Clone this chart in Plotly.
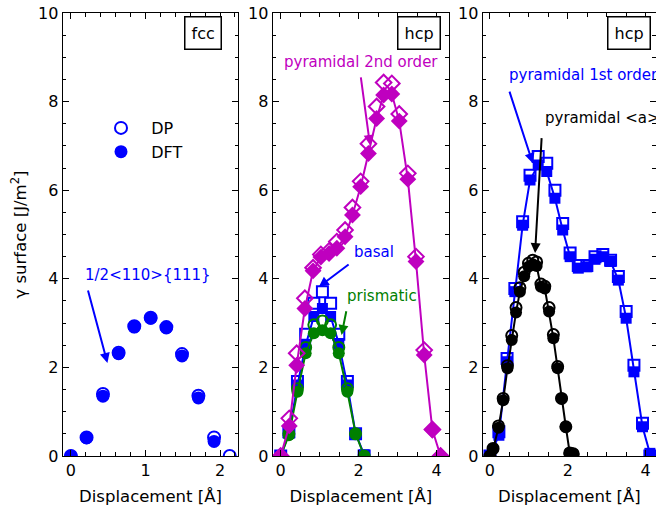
import plotly.graph_objects as go

# ---------------- data ----------------
fcc_x = [0.00, 0.21, 0.43, 0.64, 0.85, 1.07, 1.28, 1.49, 1.71, 1.92, 2.13]
fcc_dp = [0.00, 0.42, 1.40, 2.33, 2.93, 3.12, 2.91, 2.30, 1.36, 0.42, 0.00]
fcc_dft = [0.00, 0.41, 1.35, 2.31, 2.91, 3.11, 2.89, 2.26, 1.31, 0.33]

bp_x = [0.00, 0.21, 0.43, 0.64, 0.85, 1.07, 1.28, 1.49, 1.71, 1.92, 2.14]
basal_dft = [0.00, 0.51, 1.60, 2.50, 3.15, 3.33, 3.15, 2.54, 1.60, 0.51, 0.03]
basal_dp = [0.00, 0.55, 1.68, 2.75, 3.45, 3.71, 3.45, 2.75, 1.68, 0.50, 0.00]
prism_dft = [0.00, 0.47, 1.45, 2.32, 2.77, 2.84, 2.77, 2.32, 1.45, 0.51, 0.00]
prism_dp = [0.00, 0.50, 1.52, 2.45, 2.96, 3.05, 2.96, 2.45, 1.52, 0.50, 0.00]

pyr2_x = [0.00, 0.22, 0.41, 0.62, 0.83, 1.03, 1.24, 1.44, 1.65, 1.84, 2.05,
          2.25, 2.46, 2.64, 2.85, 3.04, 3.26, 3.47, 3.68, 3.89, 4.10]
pyr2_dft = [0.00, 0.68, 2.05, 3.33, 4.18, 4.49, 4.57, 4.69, 4.95, 5.44, 6.08,
            6.83, 7.62, 8.15, 8.17, 7.56, 6.25, 4.39, 2.28, 0.59, 0.00]
pyr2_dp = [0.00, 0.85, 2.32, 3.56, 4.25, 4.55, 4.63, 4.84, 5.10, 5.61, 6.20,
           7.05, 7.89, 8.43, 8.41, 7.72, 6.38, 4.50, 2.39, 0.60, 0.00]

pyr1_x = [0.00, 0.23, 0.44, 0.64, 0.84, 1.03, 1.24, 1.46, 1.67, 1.87, 2.06,
          2.27, 2.49, 2.70, 2.90, 3.10, 3.30, 3.50, 3.70, 3.92, 4.11]
pyr1_dft = [0.00, 0.47, 2.13, 3.71, 5.21, 6.23, 6.57, 6.42, 5.82, 5.10, 4.50,
            4.24, 4.27, 4.44, 4.50, 4.39, 3.97, 3.11, 1.90, 0.66, 0.06]
pyr1_dp = [0.00, 0.55, 2.20, 3.78, 5.29, 6.34, 6.76, 6.61, 6.00, 5.25, 4.58,
           4.30, 4.30, 4.50, 4.55, 4.42, 4.05, 3.26, 2.05, 0.74, 0.00]

pyra_x = [0.00, 0.08, 0.22, 0.34, 0.45, 0.56, 0.67, 0.77, 0.88, 0.99, 1.10,
          1.20, 1.31, 1.41, 1.52, 1.63, 1.74, 1.84, 1.95, 2.05, 2.14]
pyra_dft = [0.00, 0.15, 0.64, 1.26, 1.98, 2.62, 3.24, 3.71, 4.06, 4.27, 4.33,
            4.29, 3.82, 3.78, 3.26, 2.66, 1.98, 1.30, 0.66, 0.07, 0.05]
pyra_dp = [0.00, 0.17, 0.68, 1.30, 2.04, 2.72, 3.35, 3.80, 4.15, 4.35, 4.42,
           4.38, 3.88, 3.83, 3.35, 2.74, 2.02, 1.30, 0.66, 0.07, 0.05]

BLUE = "#0000ff"
GREEN = "#008000"
MAG = "#bf00bf"
BLACK = "#000000"
FONT = "DejaVu Sans"

W, H = 656, 506

fig = go.Figure()


def open_tr(x, y, color, symbol, size, xa, ya, name=None, legend=False):
    fig.add_trace(go.Scatter(
        x=x, y=y, mode="markers", xaxis=xa, yaxis=ya, name=name, showlegend=legend,
        marker=dict(symbol=symbol + "-open", size=size, color=color,
                    line=dict(width=2, color=color))))


def fill_tr(x, y, color, symbol, size, xa, ya, lines=True, name=None, legend=False):
    fig.add_trace(go.Scatter(
        x=x[:len(y)], y=y, mode="lines+markers" if lines else "markers",
        xaxis=xa, yaxis=ya, name=name, showlegend=legend,
        line=dict(color=color, width=2),
        marker=dict(symbol=symbol, size=size, color=color, line=dict(width=0))))


# panel 1: fcc
open_tr(fcc_x, fcc_dp, BLUE, "circle", 12, "x", "y", name="\u00a0\u00a0DP", legend=True)
fill_tr(fcc_x, fcc_dft, BLUE, "circle", 13, "x", "y", lines=False,
        name="\u00a0\u00a0DFT", legend=True)

# panel 2: hcp basal / prismatic / pyramidal 2nd order
open_tr(bp_x, basal_dp, BLUE, "square", 11, "x2", "y2")
fill_tr(bp_x, basal_dft, BLUE, "square", 11, "x2", "y2")
open_tr(bp_x, prism_dp, GREEN, "circle", 11, "x2", "y2")
fill_tr(bp_x, prism_dft, GREEN, "circle", 12, "x2", "y2")
open_tr(pyr2_x, pyr2_dp, MAG, "diamond", 12, "x2", "y2")
fill_tr(pyr2_x, pyr2_dft, MAG, "diamond", 13, "x2", "y2")

# panel 3: pyramidal 1st order / pyramidal <a>
open_tr(pyr1_x, pyr1_dp, BLUE, "square", 11, "x3", "y3")
fill_tr(pyr1_x, pyr1_dft, BLUE, "square", 11, "x3", "y3")
open_tr(pyra_x, pyra_dp, BLACK, "circle", 11, "x3", "y3")
fill_tr(pyra_x, pyra_dft, BLACK, "circle", 12, "x3", "y3")

ydom = [1 - 456 / H, 1 - 13 / H]
common_ax = dict(showline=True, linecolor="black", linewidth=1.2, mirror="ticks",
                 ticks="inside", ticklen=6, tickwidth=1.2, tickcolor="black",
                 showgrid=False, zeroline=False, automargin=False,
                 tickfont=dict(family=FONT, size=16, color="black"))
xtitle = dict(text="Displacement [Å]", font=dict(family=FONT, size=16.5, color="black"))
minor5 = dict(dtick=0.5, ticks="inside", ticklen=3.5, tickcolor="black")

fig.update_layout(
    width=W, height=H, margin=dict(l=0, r=0, t=0, b=0, autoexpand=False),
    paper_bgcolor="white", plot_bgcolor="white",
    font=dict(family=FONT, size=16, color="black"),
    xaxis=dict(domain=[62.7 / W, 238.3 / W], range=[-0.11, 2.245], dtick=1,
               minor=dict(dtick=0.2, ticks="inside", ticklen=3.5, tickcolor="black"),
               title=xtitle, anchor="y", **common_ax),
    xaxis2=dict(domain=[272.7 / W, 449 / W], range=[-0.205, 4.316], dtick=2,
                minor=minor5, title=xtitle, anchor="y2", **common_ax),
    xaxis3=dict(domain=[482.7 / W, 1.0], range=[-0.186, 4.267], dtick=2,
                minor=minor5, title=xtitle, anchor="y3", **common_ax),
    yaxis=dict(domain=ydom, range=[0, 10], dtick=2, anchor="x", minor=minor5, **common_ax),
    yaxis2=dict(domain=ydom, range=[0, 10], dtick=2, anchor="x2", minor=minor5, **common_ax),
    yaxis3=dict(domain=ydom, range=[0, 10], dtick=2, anchor="x3", minor=minor5, **common_ax),
    legend=dict(x=101 / W, y=1 - 111 / H, xanchor="left", yanchor="top",
                bgcolor="rgba(0,0,0,0)", borderwidth=0,
                font=dict(family=FONT, size=16, color="black"), tracegroupgap=0),
    showlegend=True,
)

anns = []

# y-axis title
anns.append(dict(text="γ surface [J/m<sup>2</sup>]", x=19 / W, y=(ydom[0] + ydom[1]) / 2,
                 xref="paper", yref="paper", textangle=-90, showarrow=False,
                 xanchor="center", yanchor="middle",
                 font=dict(family=FONT, size=16.5, color="black")))


def label(text, x, y, xref, yref, color, size=15, xanchor="center"):
    anns.append(dict(text=text, x=x, y=y, xref=xref, yref=yref, showarrow=False,
                     xanchor=xanchor, yanchor="middle",
                     font=dict(family=FONT, size=size, color=color)))


def arrow(x0, y0, x1, y1, xref, yref, color, head=2, asize=1.0):
    anns.append(dict(text="", x=x1, y=y1, ax=x0, ay=y0, xref=xref, yref=yref,
                     axref=xref, ayref=yref, showarrow=True, arrowhead=head,
                     arrowsize=asize, arrowwidth=2, arrowcolor=color))


# panel 1
label("1/2&lt;110&gt;{111}", 1.04, 4.08, "x", "y", BLUE)
arrow(0.224, 3.77, 0.49, 2.10, "x", "y", BLUE)
# panel 2
label("pyramidal 2nd order", 2.05, 8.9, "x2", "y2", MAG)
arrow(2.05, 8.58, 2.29, 7.02, "x2", "y2", MAG)
label("basal", 2.40, 4.61, "x2", "y2", BLUE)
arrow(1.78, 4.35, 0.98, 3.82, "x2", "y2", BLUE)
label("prismatic", 2.60, 3.61, "x2", "y2", GREEN)
arrow(1.69, 3.30, 1.56, 2.73, "x2", "y2", GREEN)
# panel 3
label("pyramidal 1st order", 0.44, 8.6, "x3", "y3", BLUE, xanchor="left")
arrow(0.49, 8.26, 1.10, 6.61, "x3", "y3", BLUE)
label("pyramidal &lt;a&gt;", 1.355, 7.62, "x3", "y3", BLACK, xanchor="left")
arrow(1.33, 7.21, 1.16, 4.58, "x3", "y3", BLACK)

# structure boxes
for txt, xr in [("fcc", 222), ("hcp", 441), ("hcp", 651)]:
    anns.append(dict(text=txt, x=xr / W, y=1 - 15.5 / H, xref="paper", yref="paper",
                     xanchor="right", yanchor="top", showarrow=False,
                     bordercolor="black", borderwidth=1.5, borderpad=6, bgcolor="white",
                     font=dict(family=FONT, size=16, color="black")))

fig.update_layout(annotations=anns)
fig.write_html("out.html")
